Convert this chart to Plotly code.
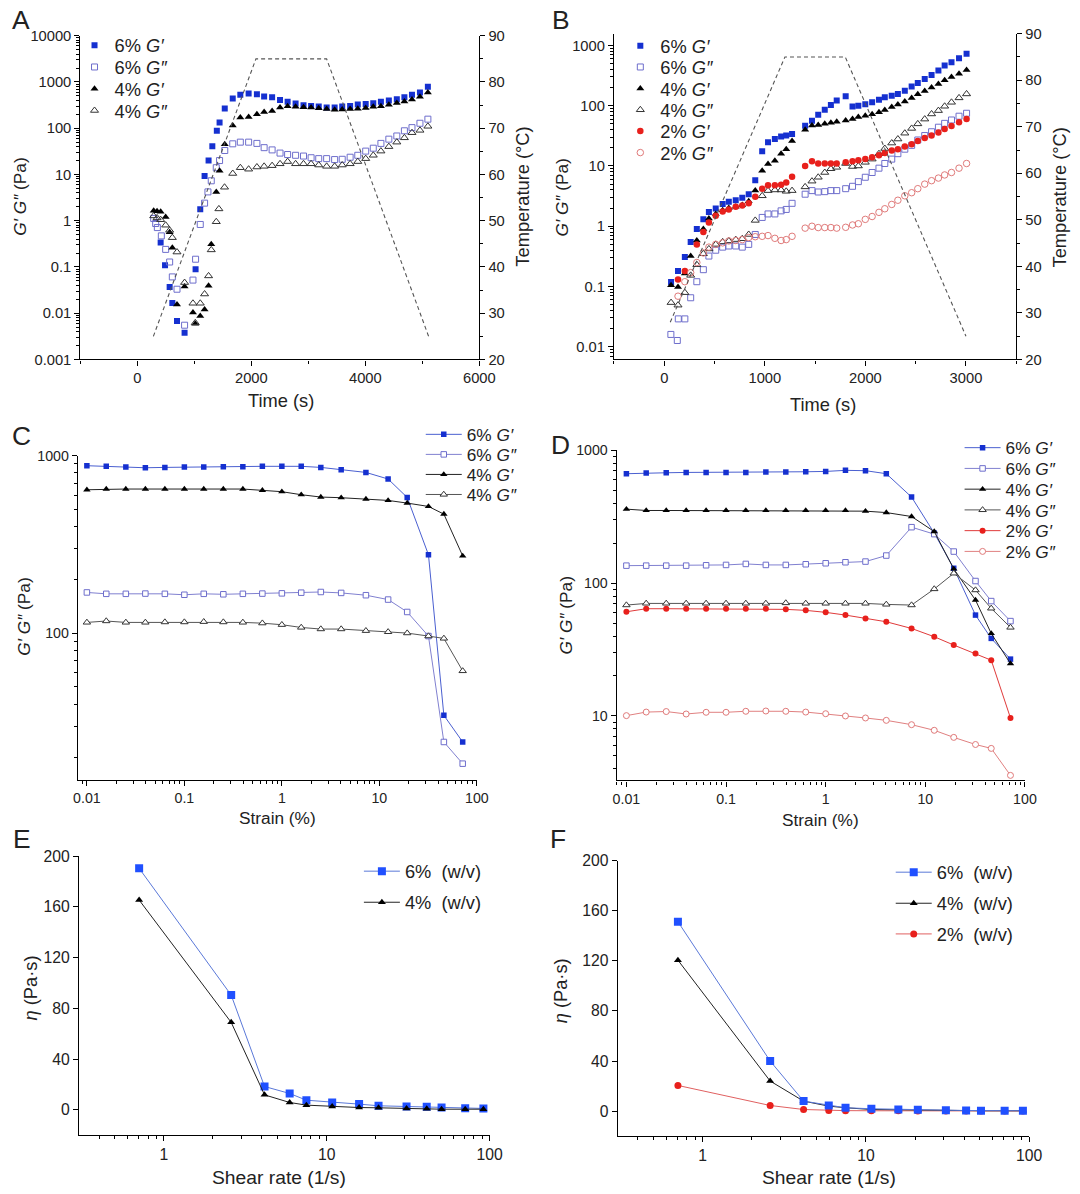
import plotly.graph_objects as go

W, H = 1080, 1194
FONT = "Arial, 'Liberation Sans', Helvetica, sans-serif"

# ---------------- Panel A : time sweep (heating/cooling), 6% and 4% ----------------
tempA_t = [280, 2080, 3320, 5110]
tempA_T = [25, 85, 85, 25]

a6Gp_t = [408, 485, 566, 613, 695, 828, 1021, 1103, 1179, 1249, 1315, 1394, 1442, 1533, 1673, 1806, 1952, 2097,
          2224, 2364, 2503, 2636, 2776, 2915, 3048, 3182, 3321, 3461, 3594, 3733, 3867, 4006, 4139, 4273, 4412,
          4552, 4685, 4818, 4958, 5097]
a6Gp_v = [0.34, 0.109, 0.037, 0.0167, 0.0068, 0.0038, 0.089, 1.78, 9.3, 20, 41, 88, 133, 267, 439, 527, 562, 545,
          485, 469, 410, 372, 342, 315, 304, 294, 280, 280, 294, 304, 325, 335, 348, 372, 397, 425, 469, 527, 592, 785]

a6Gpp_t = [286, 321, 350, 420, 496, 566, 613, 695, 828, 975, 1021, 1103, 1179, 1238, 1296, 1384, 1442, 1533, 1673,
           1806, 1952, 2097, 2224, 2364, 2503, 2636, 2776, 2915, 3048, 3182, 3321, 3461, 3594, 3733, 3867, 4006,
           4139, 4273, 4412, 4552, 4685, 4818, 4958, 5097]
a6Gpp_v = [1.12, 0.87, 0.71, 0.47, 0.24, 0.128, 0.061, 0.033, 0.0055, 0.052, 0.147, 0.83, 2.4, 4.2, 7.3, 14, 20, 33,
           46, 50, 50, 47, 38, 34, 29, 27, 26, 25, 23, 22, 22, 21, 21.3, 23.6, 26, 32, 37, 47, 58, 68, 88, 103, 128, 157]

a4Gp_t = [286, 345, 408, 496, 566, 613, 695, 828, 975, 1016, 1103, 1179, 1249, 1296, 1384, 1442, 1533, 1673, 1806,
          1952, 2097, 2224, 2364, 2503, 2636, 2776, 2915, 3048, 3182, 3321, 3461, 3594, 3733, 3867, 4006, 4139,
          4273, 4412, 4552, 4685, 4818, 4958, 5097]
a4Gp_v = [1.64, 1.6, 1.56, 1.2, 0.56, 0.26, 0.0155, 0.038, 0.0103, 0.0059, 0.0087, 0.012, 0.039, 0.31, 4.2, 12, 45,
          115, 170, 175, 200, 225, 235, 280, 300, 290, 285, 280, 270, 260, 250, 255, 260, 265, 275, 290, 300, 320,
          350, 380, 420, 480, 590]

a4Gpp_t = [286, 345, 408, 496, 566, 613, 695, 828, 975, 1016, 1103, 1179, 1249, 1296, 1384, 1430, 1529, 1673, 1806,
           1952, 2097, 2224, 2364, 2503, 2636, 2776, 2915, 3048, 3182, 3321, 3461, 3594, 3733, 3867, 4006, 4139,
           4273, 4412, 4552, 4685, 4818, 4958, 5097]
a4Gpp_v = [1.27, 1.15, 1.05, 0.8, 0.62, 0.43, 0.21, 0.046, 0.0164, 0.0062, 0.0164, 0.026, 0.064, 0.234, 0.95, 1.8,
           5.3, 10.5, 14, 13, 14.5, 15, 15.5, 17, 19, 17, 17, 17, 16, 15, 15, 16, 17, 19, 22, 26, 32, 40, 50, 62, 80,
           90, 110]

# ---------------- Panel B : time sweep, 6%, 4% and 2% ----------------
tempB_t = [60, 1200, 1800, 3000]
tempB_T = [28, 85, 85, 25]

tB = [68, 137, 205, 263, 324, 389, 444, 512, 581, 642, 711, 776, 840, 905, 974, 1032, 1100, 1162, 1213, 1271, 1401,
      1469, 1531, 1596, 1657, 1715, 1804, 1872, 1930, 1999, 2067, 2135, 2193, 2262, 2323, 2392, 2460, 2521, 2590,
      2658, 2726, 2788, 2856, 2931, 3006]
b6Gp_v = [0.119, 0.18, 0.31, 0.55, 0.9, 1.31, 1.73, 1.97, 2.33, 2.55, 2.71, 2.97, 3.41, 5.8, 17.5, 24.7, 28, 31, 32,
          34, 46.7, 56.6, 71, 86, 103, 122, 144, 97, 100, 106, 114, 126, 138, 147, 157, 178, 208, 239, 279, 325, 384,
          465, 528, 615, 727]
b4Gp_v = [0.105, 0.098, 0.165, 0.32, 0.58, 0.9, 1.35, 1.6, 1.85, 2.0, 2.1, 2.25, 2.6, 3.9, 8.3, 10.8, 12.2, 16, 19,
          26, 40, 47, 48, 50, 52, 54, 57, 60, 65, 68, 72, 78, 85, 95, 105, 118, 135, 155, 175, 200, 230, 265, 300,
          340, 390]
b4Gpp_v = [0.054, 0.049, 0.079, 0.153, 0.23, 0.35, 0.42, 0.5, 0.55, 0.57, 0.6, 0.62, 0.73, 1.25, 3.2, 3.9, 4.0, 4.0,
           3.8, 3.9, 4.5, 5.6, 6.5, 7.8, 9, 9.5, 11, 9.8, 10, 11.5, 13, 16, 19.5, 24, 28, 35, 42, 50, 60, 73, 83, 98,
           114, 135, 157]

b6Gpp_t = [66, 130, 140, 205, 263, 324, 389, 444, 512, 581, 642, 711, 776, 840, 905, 974, 1032, 1100, 1162, 1213,
           1271, 1401, 1469, 1531, 1596, 1657, 1715, 1804, 1872, 1930, 1999, 2067, 2135, 2193, 2262, 2323, 2392,
           2460, 2521, 2590, 2658, 2726, 2788, 2856, 2931, 3006]
b6Gpp_v = [0.016, 0.0127, 0.029, 0.029, 0.065, 0.12, 0.19, 0.32, 0.40, 0.45, 0.47, 0.47, 0.45, 0.5, 0.73, 1.4, 1.6,
           1.6, 1.8, 1.9, 2.4, 3.4, 3.9, 3.7, 3.75, 3.9, 3.9, 4.2, 4.6, 5.5, 6.5, 7.8, 9.2, 11, 13, 16, 19, 22, 27, 32,
           37, 44, 51, 58, 67, 75]

b2Gp_t = [137, 205, 324, 389, 444, 512, 581, 642, 711, 776, 840, 905, 974, 1032, 1100, 1162, 1213, 1271, 1401, 1469,
          1531, 1596, 1657, 1715, 1804, 1872, 1930, 1999, 2067, 2135, 2193, 2262, 2323, 2392, 2460, 2521, 2590, 2658,
          2726, 2788, 2856, 2931, 3006]
b2Gp_v = [0.13, 0.18, 0.5, 0.8, 1.15, 1.5, 1.75, 1.9, 2.1, 2.2, 2.4, 3.1, 4.2, 4.8, 4.8, 4.9, 5.3, 6.6, 10, 12, 11,
          11, 11, 11, 11.5, 12, 12.5, 13, 14, 15, 16.5, 18, 19, 21, 23, 26, 29, 32, 36, 41, 46, 53, 60]

b2Gpp_t = [137, 205, 263, 324, 389, 444, 512, 581, 642, 711, 776, 840, 905, 974, 1032, 1100, 1162, 1213, 1271, 1401,
           1469, 1531, 1596, 1657, 1715, 1804, 1872, 1930, 1999, 2067, 2135, 2193, 2262, 2323, 2392, 2460, 2521,
           2590, 2658, 2726, 2788, 2856, 2931, 3006]
b2Gpp_v = [0.069, 0.12, 0.17, 0.25, 0.36, 0.45, 0.5, 0.53, 0.57, 0.58, 0.6, 0.65, 0.67, 0.68, 0.7, 0.63, 0.58, 0.6,
           0.68, 0.93, 1.0, 0.95, 0.95, 0.95, 0.93, 0.96, 1.05, 1.1, 1.3, 1.45, 1.7, 1.95, 2.3, 2.7, 3.2, 3.6, 4.2,
           5.0, 5.7, 6.3, 7.1, 7.8, 9.2, 11]

# ---------------- Panels C / D : strain sweep ----------------
strain = [0.01, 0.0158, 0.0251, 0.0398, 0.0631, 0.1, 0.158, 0.251, 0.398, 0.631, 1, 1.58, 2.51, 4.06, 7.28, 12.3,
          19.3, 31.9, 45.9, 71.6]
c6Gp = [878, 871, 863, 855, 859, 863, 863, 867, 867, 871, 871, 871, 859, 834, 805, 739, 582, 277, 34.6, 24.5]
c6Gpp = [170, 167, 167, 167.5, 167, 165, 167, 166, 167, 167.5, 168, 169.5, 171, 169, 164, 155, 132, 96.6, 24.5, 18.5]
c4Gp = [643, 649, 649, 649, 649, 649, 649, 649, 649, 638, 627, 603, 585, 580, 570, 560, 541, 518, 469, 273]
c4Gpp = [115.3, 117.4, 115.3, 115.3, 115.8, 115.8, 116.3, 115.8, 115.3, 114.2, 111.9, 108, 105.8, 105.8, 103.5, 102,
         100.4, 96.6, 93.7, 61.5]

d6Gp = [667, 675, 678, 682, 682, 682, 682, 686, 686, 690, 694, 707, 703, 667, 445, 238, 129.5, 57.5, 38.4, 26.8]
d6Gpp = [135.5, 135.5, 135.5, 135.5, 136.4, 137.2, 139.6, 137.2, 137.2, 138.8, 141.2, 143.7, 145.4, 161.4, 264, 234,
         173, 103.8, 73.3, 51.8]
d4Gp = [361, 352.6, 352.6, 352.6, 352.6, 352.6, 352.6, 352.6, 352.6, 352.6, 352.6, 352.6, 348.5, 340, 317.6, 244.7,
        128, 74.6, 41.8, 24.8]
d4Gpp = [68.4, 70.4, 70.4, 70.4, 70.4, 70.4, 70.4, 70.4, 70.9, 70.4, 70.4, 70.4, 70.4, 69.2, 68.4, 90.4, 118.6, 88.7,
         64.6, 46.4]
d2Gp = [60.9, 64.2, 64.2, 64.2, 64.2, 64.2, 64.2, 64.2, 63.5, 62.4, 60.3, 57.5, 54.3, 51.2, 45.6, 39.5, 34.2, 29.5,
        26.3, 9.66]
d2Gpp = [10.06, 10.7, 10.8, 10.35, 10.66, 10.66, 10.85, 10.9, 10.85, 10.7, 10.4, 10.0, 9.66, 9.27, 8.6, 7.8, 6.9,
         6.1, 5.7, 3.57]

# ---------------- Panels E / F : viscosity vs shear rate ----------------
shear = [0.705, 2.59, 4.15, 5.92, 7.5, 10.8, 15.8, 20.8, 30.9, 41.1, 50.7, 70.8, 91.6]
e6 = [190.5, 90.5, 18.4, 12.9, 7.6, 5.8, 4.5, 3.2, 2.6, 2.4, 1.8, 1.3, 1.1]
e4 = [165.5, 69, 11.8, 5.8, 3.7, 2.6, 1.8, 1.6, 1.0, 0.8, 0.5, 0.5, 0.5]
f6 = [151.2, 40, 8, 4.5, 2.7, 1.9, 1.3, 1.1, 0.8, 0.5, 0.4, 0.3, 0.3]
f4 = [120.5, 24, 8, 4, 2.7, 1.3, 1.1, 0.8, 0.5, 0.4, 0.3, 0.3, 0.3]
f2 = [20.5, 4.5, 1.3, 0.5, 0.4, 0.3, 0.3, 0.2, 0.2, 0.2, 0.1, 0.1, 0.1]

log_ticks = [0.001, 0.01, 0.1, 1, 10, 100, 1000, 10000]
log_text = ["0.001", "0.01", "0.1", "1", "10", "100", "1000", "10000"]

BLUE = "#1530d0"
BLUE_O = "#6e6ecc"
RED = "#e8201c"
RED_O = "#e07a7a"
BLK = "#000000"
GRY = "#333333"

# the photographed page comes out slightly shrunk and shifted; place everything so that it lands
# where the reference has it
KX, OX = 0.9827, 3.33
KY, OY = 0.9844, 9.33
FS = 1.015


def X(p):
    return ((p - OX) / KX) / W


def Y(p):
    return 1 - ((p - OY) / KY) / H


def axis(domain, rng, typ="linear", tickvals=None, ticktext=None, minor=None, fs=14.5, **kw):
    d = dict(domain=domain, range=rng, type=typ, showline=True, linecolor="black", linewidth=1.3,
             ticks="outside", ticklen=5, tickwidth=1.2, tickcolor="black", showgrid=False, zeroline=False,
             tickfont=dict(family=FONT, size=fs * FS, color="#222"), mirror=False, fixedrange=True)
    if tickvals is not None:
        d["tickmode"] = "array"
        d["tickvals"] = tickvals
        d["ticktext"] = ticktext if ticktext is not None else [str(v) for v in tickvals]
    if minor is not None:
        d["minor"] = dict(dtick=minor, ticks="outside", ticklen=3, tickwidth=1, tickcolor="black", showgrid=False)
    d.update(kw)
    return d


fig = go.Figure()
legends = {}


def new_legend(xl, yc, fs, iw=30):
    k = "legend" if not legends else "legend%d" % (len(legends) + 1)
    legends[k] = dict(x=X(xl), y=Y(yc), xanchor="left", yanchor="middle", bgcolor="rgba(0,0,0,0)",
                      borderwidth=0, itemwidth=iw, font=dict(family=FONT, size=fs * FS, color="#222"),
                      itemclick=False, itemdoubleclick=False)
    return k


def sc(x, y, name, xa, ya, leg, symbol, color, size, mode="markers", line=None, fill=None, lw=1.0):
    mk = dict(symbol=symbol, size=size, color=fill if fill is not None else color,
              line=dict(color=color, width=lw))
    tr = go.Scatter(x=x, y=y, name=name, xaxis=xa, yaxis=ya, mode=mode, marker=mk,
                    legend=new_legend(*leg), showlegend=True, hoverinfo="skip")
    if line is not None:
        tr.line = line
    fig.add_trace(tr)


# Panel A
fig.add_trace(go.Scatter(x=tempA_t, y=tempA_T, xaxis="x", yaxis="y2", mode="lines", showlegend=False,
                         line=dict(color="#555", width=1.1, dash="4px,3px"), hoverinfo="skip"))
LA = 73
sc(a6Gp_t, a6Gp_v, "6% <i>G′</i>", "x", "y", (LA, 46.7, 18), "square", BLUE, 6, lw=0)
sc(a6Gpp_t, a6Gpp_v, "6% <i>G″</i>", "x", "y", (LA, 68.3, 18), "square-open", BLUE_O, 6)
sc(a4Gp_t, a4Gp_v, "4% <i>G′</i>", "x", "y", (LA, 90, 18), "triangle-up", BLK, 7, lw=0)
sc(a4Gpp_t, a4Gpp_v, "4% <i>G″</i>", "x", "y", (LA, 111.7, 18), "triangle-up-open", GRY, 7)

# Panel B
fig.add_trace(go.Scatter(x=tempB_t, y=tempB_T, xaxis="x2", yaxis="y4", mode="lines", showlegend=False,
                         line=dict(color="#555", width=1.1, dash="4px,3px"), hoverinfo="skip"))
LB = 620
sc(tB, b6Gp_v, "6% <i>G′</i>", "x2", "y3", (LB, 47, 18), "square", BLUE, 6, lw=0)
sc(b6Gpp_t, b6Gpp_v, "6% <i>G″</i>", "x2", "y3", (LB, 68.3, 18), "square-open", BLUE_O, 6)
sc(tB, b4Gp_v, "4% <i>G′</i>", "x2", "y3", (LB, 89.7, 18), "triangle-up", BLK, 7, lw=0)
sc(tB, b4Gpp_v, "4% <i>G″</i>", "x2", "y3", (LB, 111, 18), "triangle-up-open", GRY, 7)
sc(b2Gp_t, b2Gp_v, "2% <i>G′</i>", "x2", "y3", (LB, 132.3, 18), "circle", RED, 6.5, lw=0)
sc(b2Gpp_t, b2Gpp_v, "2% <i>G″</i>", "x2", "y3", (LB, 153.7, 18), "circle-open", RED_O, 6.5)

# Panel C
LC = 420
sc(strain, c6Gp, "6% <i>G′</i>", "x3", "y5", (LC, 435, 17, 36), "square", BLUE, 5.5, mode="lines+markers",
   line=dict(color="#4a5fd0", width=1), lw=0)
sc(strain, c6Gpp, "6% <i>G″</i>", "x3", "y5", (LC, 455, 17, 36), "square", BLUE_O, 5.5, mode="lines+markers",
   line=dict(color="#8080d0", width=1), fill="white")
sc(strain, c4Gp, "4% <i>G′</i>", "x3", "y5", (LC, 475, 17, 36), "triangle-up", BLK, 6.5, mode="lines+markers",
   line=dict(color="#222", width=1), lw=0)
sc(strain, c4Gpp, "4% <i>G″</i>", "x3", "y5", (LC, 495, 17, 36), "triangle-up", GRY, 6.5, mode="lines+markers",
   line=dict(color="#555", width=1), fill="white")

# Panel D
LD = 960
sc(strain, d6Gp, "6% <i>G′</i>", "x4", "y6", (LD, 448.3, 17, 36), "square", BLUE, 5.5, mode="lines+markers",
   line=dict(color="#4a5fd0", width=1), lw=0)
sc(strain, d6Gpp, "6% <i>G″</i>", "x4", "y6", (LD, 469, 17, 36), "square", BLUE_O, 5.5, mode="lines+markers",
   line=dict(color="#8080d0", width=1), fill="white")
sc(strain, d4Gp, "4% <i>G′</i>", "x4", "y6", (LD, 489.7, 17, 36), "triangle-up", BLK, 6.5, mode="lines+markers",
   line=dict(color="#222", width=1), lw=0)
sc(strain, d4Gpp, "4% <i>G″</i>", "x4", "y6", (LD, 510.4, 17, 36), "triangle-up", GRY, 6.5, mode="lines+markers",
   line=dict(color="#555", width=1), fill="white")
sc(strain, d2Gp, "2% <i>G′</i>", "x4", "y6", (LD, 531.1, 17, 36), "circle", RED, 6, mode="lines+markers",
   line=dict(color="#e03a3a", width=1), lw=0)
sc(strain, d2Gpp, "2% <i>G″</i>", "x4", "y6", (LD, 551.8, 17, 36), "circle", RED_O, 6, mode="lines+markers",
   line=dict(color="#e08080", width=1), fill="white")

# Panel E
LE = 358
sc(shear, e6, "6%\u00a0 (w/v)", "x5", "y7", (LE, 870.7, 18, 36), "square", "#2050ff", 8, mode="lines+markers",
   line=dict(color="#5a78d8", width=1), lw=0)
sc(shear, e4, "4%\u00a0 (w/v)", "x5", "y7", (LE, 901.7, 18, 36), "triangle-up", BLK, 7, mode="lines+markers",
   line=dict(color="#222", width=1), lw=0)

# Panel F (2% drawn first so that 6% sits on top)
LF = 891
sc(shear, f2, "2%\u00a0 (w/v)", "x6", "y8", (LF, 933.3, 18, 36), "circle", RED, 7, mode="lines+markers",
   line=dict(color="#e06060", width=1), lw=0)
sc(shear, f4, "4%\u00a0 (w/v)", "x6", "y8", (LF, 902.7, 18, 36), "triangle-up", BLK, 7, mode="lines+markers",
   line=dict(color="#222", width=1), lw=0)
sc(shear, f6, "6%\u00a0 (w/v)", "x6", "y8", (LF, 871.7, 18, 36), "square", "#2050ff", 8, mode="lines+markers",
   line=dict(color="#5a78d8", width=1), lw=0)

layout = dict(
    width=W, height=H, margin=dict(l=0, r=0, t=0, b=0), paper_bgcolor="white", plot_bgcolor="white",
    font=dict(family=FONT, color="#222"),
    # A
    xaxis=axis([X(78.9), X(478.7)], [-1000, 6000], tickvals=[0, 2000, 4000, 6000], minor=1000, anchor="y"),
    yaxis=axis([Y(360), Y(37)], [-3, 4], typ="log", tickvals=log_ticks, ticktext=log_text, minor="D1",
               anchor="x"),
    yaxis2=axis([Y(360), Y(37)], [20, 90], tickvals=[20, 30, 40, 50, 60, 70, 80, 90], minor=5,
                overlaying="y", side="right", anchor="x"),
    # B
    xaxis2=axis([X(613.6), X(1016.8)], [-500, 3500], tickvals=[0, 1000, 2000, 3000], minor=500, anchor="y3"),
    yaxis3=axis([Y(360), Y(35)], [-2.211, 3.195], typ="log", tickvals=log_ticks[1:7], ticktext=log_text[1:7],
                minor="D1", anchor="x2"),
    yaxis4=axis([Y(360), Y(35)], [20, 90], tickvals=[20, 30, 40, 50, 60, 70, 80, 90], minor=5,
                overlaying="y3", side="right", anchor="x2"),
    # C
    xaxis3=axis([X(76.4), X(476.2)], [-2.092, 2], typ="log", tickvals=[0.01, 0.1, 1, 10, 100],
                ticktext=["0.01", "0.1", "1", "10", "100"], minor="D1", fs=14, anchor="y5"),
    yaxis5=axis([Y(779.3), Y(456)], [1.177, 3], typ="log", tickvals=[100, 1000], ticktext=["100", "1000"],
                minor="D1", fs=14, anchor="x3"),
    # D
    xaxis4=axis([X(616.4), X(1025.5)], [-2.097, 2], typ="log", tickvals=[0.01, 0.1, 1, 10, 100],
                ticktext=["0.01", "0.1", "1", "10", "100"], minor="D1", fs=14, anchor="y6"),
    yaxis6=axis([Y(780), Y(450.7)], [0.515, 3], typ="log", tickvals=[10, 100, 1000],
                ticktext=["10", "100", "1000"], minor="D1", fs=14, anchor="x4"),
    # E
    xaxis5=axis([X(77.5), X(489)], [-0.521, 2], typ="log", tickvals=[1, 10, 100], ticktext=["1", "10", "100"],
                minor="D1", fs=15.5, anchor="y7"),
    yaxis7=axis([Y(1134), Y(855.7)], [-20, 200], tickvals=[0, 40, 80, 120, 160, 200], fs=15.5, anchor="x5"),
    # F
    xaxis6=axis([X(617.5), X(1029.7)], [-0.52, 2], typ="log", tickvals=[1, 10, 100], ticktext=["1", "10", "100"],
                minor="D1", fs=15.5, anchor="y8"),
    yaxis8=axis([Y(1135), Y(860)], [-20, 200], tickvals=[0, 40, 80, 120, 160, 200], fs=15.5, anchor="x6"),
)
layout.update(legends)

ann = []


def txt(x, y, s, size, angle=0):
    ann.append(dict(x=X(x), y=Y(y), xref="paper", yref="paper", text=s, showarrow=False, textangle=angle,
                    font=dict(family=FONT, size=size * FS, color="#222"), xanchor="center", yanchor="middle"))


for lab, x, y in [("A", 19, 21), ("B", 561, 21), ("C", 20, 436), ("D", 560, 445), ("E", 20, 838), ("F", 558, 838)]:
    txt(x, y, lab, 26)

GT = "<i>G′ G″</i> (Pa)"
txt(18, 198, GT, 17, -90)
txt(522, 198, "Temperature (°C)", 18, -90)
txt(280, 401, "Time (s)", 18)
txt(562, 198, GT, 17, -90)
txt(1060, 198, "Temperature (°C)", 18, -90)
txt(823, 405, "Time (s)", 18)
txt(22, 617, GT, 17, -90)
txt(276, 818, "Strain (%)", 17)
txt(566, 615, GT, 17, -90)
txt(821, 820, "Strain (%)", 17)
txt(29, 987, "<i>η</i> (Pa·s)", 18, -90)
txt(278, 1176, "Shear rate (1/s)", 19)
txt(560, 990, "<i>η</i> (Pa·s)", 18, -90)
txt(829, 1176, "Shear rate (1/s)", 19)

layout["annotations"] = ann
fig.update_layout(**layout)
fig.write_html("out.html")
